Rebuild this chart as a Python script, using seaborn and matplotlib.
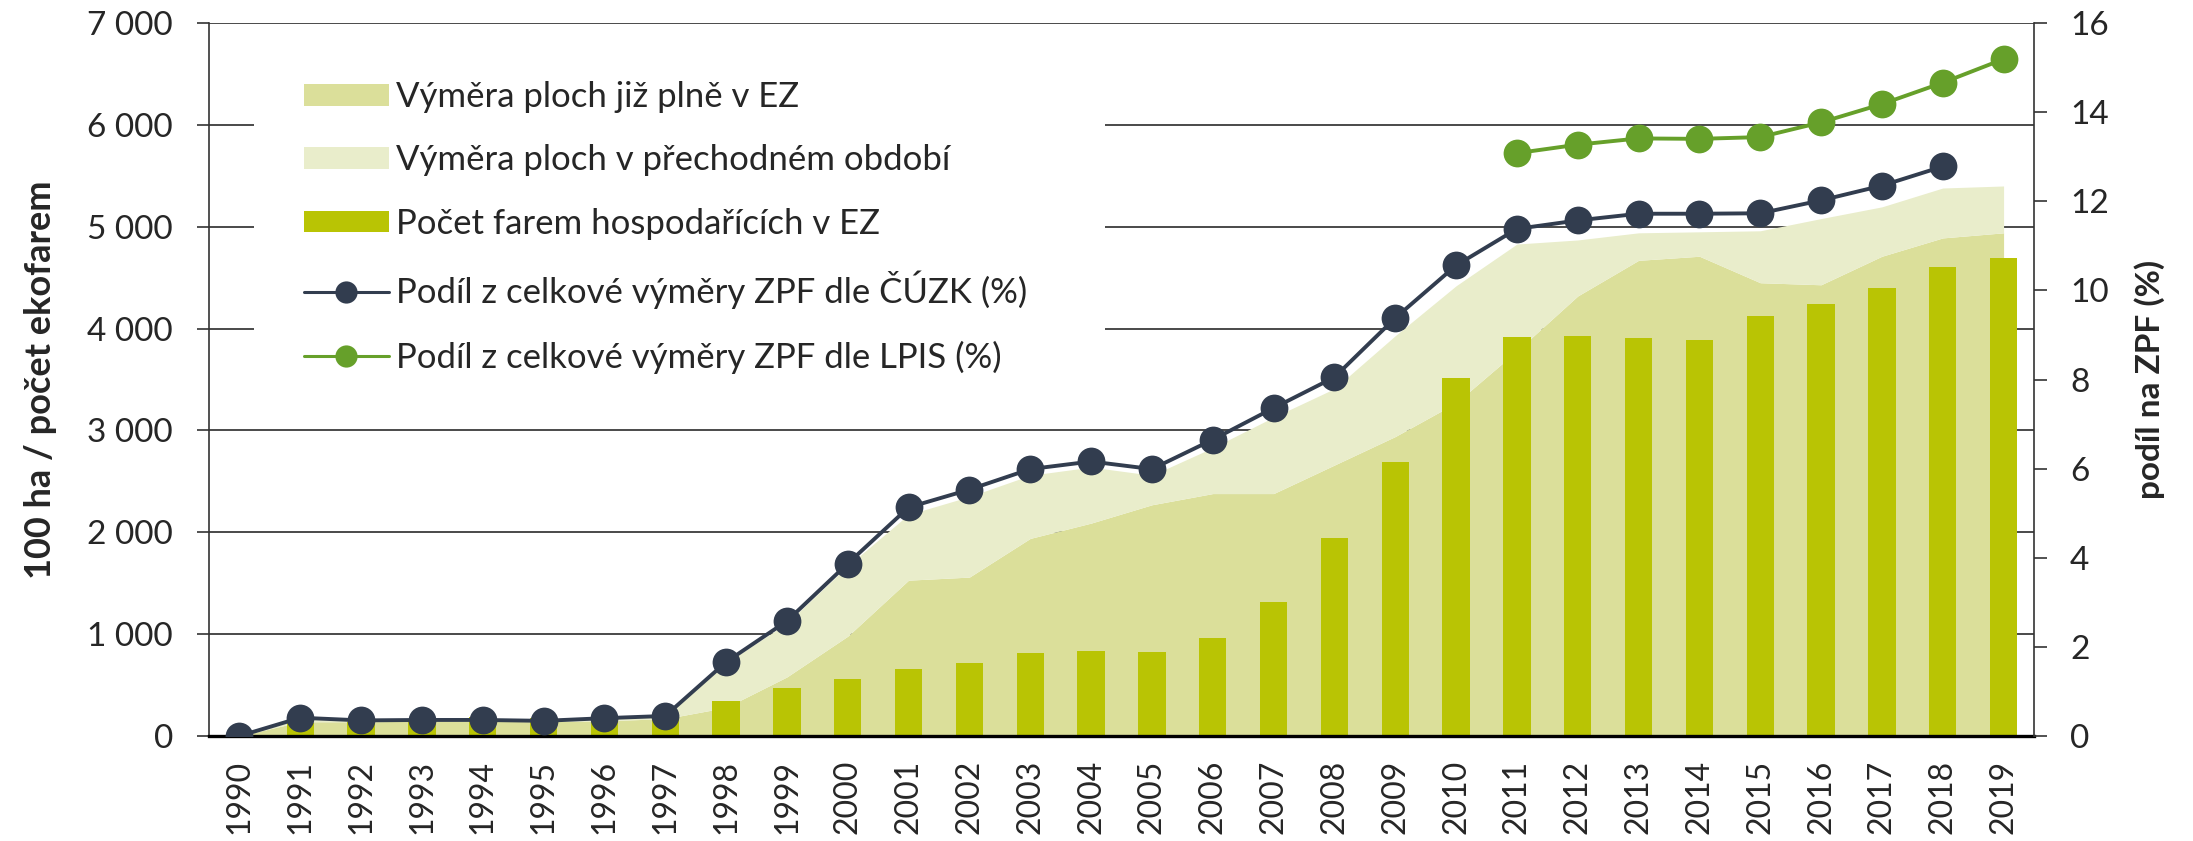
import numpy as np
import pandas as pd
import matplotlib
matplotlib.use("Agg")
import matplotlib.pyplot as plt
import seaborn as sns
from matplotlib.patches import Patch, Rectangle
from matplotlib.lines import Line2D
from matplotlib.ticker import FuncFormatter

# ---------------- data ----------------
years = list(range(1990, 2020))
# area fully in organic farming (100 ha)
area_full = [0, 140, 140, 145, 145, 140, 150, 170, 280, 580,
             980, 1530, 1560, 1940, 2090, 2270, 2380, 2380, 2660, 2940,
             3270, 3780, 4320, 4670, 4710, 4450, 4430, 4710, 4890, 4940]
# total area incl. transition period (100 ha) -> top of light area
area_total = [5, 165, 155, 157, 158, 150, 170, 202, 716, 1108,
              1670, 2175, 2351, 2560, 2640, 2560, 2830, 3130, 3410, 3930,
              4420, 4830, 4870, 4940, 4950, 4960, 5080, 5195, 5380, 5400]
# number of organic farms
farms = [3, 132, 135, 141, 187, 181, 182, 211, 348, 473,
         563, 654, 721, 810, 836, 829, 963, 1318, 1946, 2689,
         3517, 3920, 3923, 3910, 3885, 4121, 4243, 4399, 4606, 4690]
# share of agricultural land (%) - ČÚZK
share_cuzk = [0.0, 0.41, 0.35, 0.36, 0.36, 0.34, 0.40, 0.45, 1.66, 2.58,
              3.87, 5.13, 5.53, 5.99, 6.16, 5.99, 6.65, 7.36, 8.05, 9.38,
              10.56, 11.38, 11.57, 11.72, 11.72, 11.73, 12.02, 12.35, 12.78, np.nan]
# share of agricultural land (%) - LPIS
share_lpis = [np.nan] * 21 + [13.08, 13.27, 13.41, 13.40, 13.44, 13.77, 14.18, 14.66, 15.19]

left_ticks = [0, 1000, 2000, 3000, 4000, 5000, 6000, 7000]
right_ticks = [0, 2, 4, 6, 8, 10, 12, 14, 16]

labels = ["Výměra ploch již plně v EZ",
          "Výměra ploch v přechodném období",
          "Počet farem hospodařících v EZ",
          "Podíl z celkové výměry ZPF dle ČÚZK (%)",
          "Podíl z celkové výměry ZPF dle LPIS (%)"]

# ---------------- style ----------------
sns.set_style("white")
plt.rcParams['font.family'] = ['Lato', 'DejaVu Sans']

C_FULL = "#dbdf9a"
C_TRANS = "#e9edcb"
C_BAR = "#b9c404"
C_CUZK = "#323d4f"
C_LPIS = "#66a02a"
C_GRID = "#4a4a4a"

W, H = 2193, 841
fig = plt.figure(figsize=(W / 100, H / 100), dpi=100)
L, R, T, B = 209, 2034, 23, 736
ax = fig.add_axes([L / W, 1 - B / H, (R - L) / W, (B - T) / H])
ax2 = ax.twinx()

x = np.arange(len(years))
df = pd.DataFrame({"year": [str(y) for y in years], "farms": farms, "x": x,
                   "cuzk": share_cuzk, "lpis": share_lpis})

# areas
ax.fill_between(x, 0, area_full, color=C_FULL, lw=0, zorder=1)
ax.fill_between(x, area_full, area_total, color=C_TRANS, lw=0, zorder=1)

# bars
sns.barplot(data=df, x="year", y="farms", color=C_BAR, saturation=1,
            width=0.45, ax=ax, zorder=2, linewidth=0)

# lines
sns.lineplot(data=df, x="x", y="cuzk", ax=ax2, color=C_CUZK, lw=2.8,
             marker="o", markersize=20, markeredgewidth=0)
sns.lineplot(data=df, x="x", y="lpis", ax=ax2, color=C_LPIS, lw=2.8,
             marker="o", markersize=20, markeredgewidth=0)

# axes limits / ticks
ax.set_xlim(-0.5, len(years) - 0.5)
ax.set_ylim(0, 7000)
ax2.set_ylim(0, 16)
ax2.set_xlim(-0.5, len(years) - 0.5)

ax.set_xticks(x)
ax.set_xticklabels([str(y) for y in years], rotation=90, fontsize=23)
ax.set_xticks(np.arange(-0.5, len(years), 1), minor=True)
ax.tick_params(axis="x", which="major", length=0, pad=17)
ax.tick_params(axis="x", which="minor", length=8, width=1.2, color="#222222", direction="out")
ax.set_xlabel("")

ax.set_yticks(left_ticks)
ax.yaxis.set_major_formatter(FuncFormatter(lambda v, p: f"{int(v):,}".replace(",", " ")))
ax.tick_params(axis="y", length=9, width=1.2, color="#333333", labelsize=24, pad=17,
               direction="out")
ax.set_axisbelow(True)
ax.grid(axis="y", color=C_GRID, lw=1.4)
ax.grid(axis="x", visible=False)

ax2.set_yticks(right_ticks)
ax2.tick_params(axis="y", length=9, width=1.2, color="#333333", labelsize=24, pad=17,
                direction="out")
ax2.set_ylabel("")
ax2.grid(False)

ax.set_ylabel("100 ha / počet ekofarem", fontsize=26, fontweight="bold", labelpad=22)
ax2.set_ylabel("podíl na ZPF (%)", fontsize=24, fontweight="bold", labelpad=18)

for s in ["top", "right"]:
    ax.spines[s].set_visible(False)
for s in ["top", "left", "bottom"]:
    ax2.spines[s].set_visible(False)
ax.spines["left"].set_color("#333333")
ax.spines["left"].set_linewidth(1.2)
ax2.spines["right"].set_color("#333333")
ax2.spines["right"].set_linewidth(1.2)
ax.spines["bottom"].set_color("black")
ax.spines["bottom"].set_linewidth(2.4)
ax.spines["bottom"].set_zorder(3)

# white box behind legend (covers gridlines)
ax.add_patch(Rectangle((0.0247, 0.471), 0.466, 0.491, transform=ax.transAxes,
                       facecolor="white", edgecolor="none", zorder=0.8))

handles = [Patch(facecolor=C_FULL, edgecolor="none"),
           Patch(facecolor=C_TRANS, edgecolor="none"),
           Patch(facecolor=C_BAR, edgecolor="none"),
           Line2D([], [], color=C_CUZK, lw=2.2, marker="o", markersize=16, markeredgewidth=0),
           Line2D([], [], color=C_LPIS, lw=2.2, marker="o", markersize=16, markeredgewidth=0)]
ax2.legend(handles, labels, loc="upper left", bbox_to_anchor=(0.0444, 0.938),
           bbox_transform=ax.transAxes, frameon=False, fontsize=25,
           handlelength=2.45, handleheight=0.58, labelspacing=0.9,
           handletextpad=0.2, borderaxespad=0, borderpad=0.4)

fig.savefig("out.png", dpi=100)
